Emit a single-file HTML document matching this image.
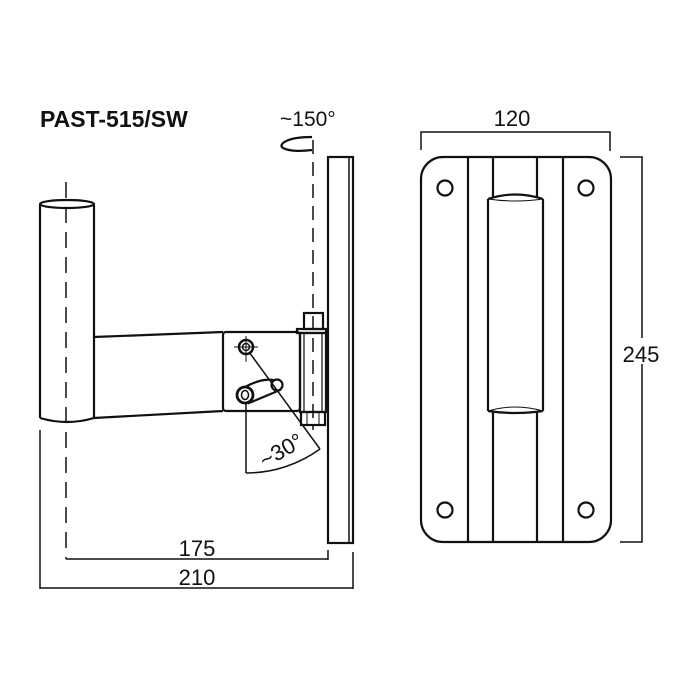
<!DOCTYPE html>
<html><head><style>body{margin:0;background:#fff}svg{display:block}</style></head>
<body>
<svg width="700" height="700" viewBox="0 0 700 700" xmlns="http://www.w3.org/2000/svg" font-family="Liberation Sans, sans-serif">
<text x="40" y="127" font-size="23" font-weight="bold" fill="#111">PAST-515/SW</text>
<text x="280" y="126" font-size="21" fill="#111">~150°</text>
<g fill="none" stroke="#111" stroke-width="2.2">
<path d="M312 137 C285 137 278 145 283 148 C290 152 305 151 312 150"/>
<line x1="313" y1="140" x2="313" y2="430" stroke-dasharray="14,8" stroke-width="1.5"/>
<rect x="328" y="157" width="25" height="386"/>
<line x1="349" y1="157" x2="349" y2="543" stroke-width="1.5"/>
<line x1="40" y1="205" x2="40" y2="418"/>
<line x1="94" y1="205" x2="94" y2="418"/>
<ellipse cx="67" cy="204" rx="27" ry="4"/>
<path d="M40 418 Q67 426 94 418"/>
<line x1="66" y1="182" x2="66" y2="559" stroke-dasharray="16,9" stroke-width="1.5"/>
<line x1="94" y1="337" x2="223" y2="332"/>
<line x1="94" y1="418" x2="223" y2="411"/>
<rect x="223" y="332" width="77" height="79" rx="3"/>
<rect x="304" y="313" width="19" height="16"/>
<rect x="297" y="329" width="29" height="4"/>
<rect x="300" y="333" width="26" height="79"/>
<line x1="304" y1="333" x2="304" y2="412" stroke-width="1.2"/>
<line x1="322" y1="333" x2="322" y2="412" stroke-width="1.2"/>
<rect x="301" y="412" width="24" height="13"/>
<line x1="307" y1="412" x2="307" y2="425" stroke-width="1"/>
<line x1="319" y1="412" x2="319" y2="425" stroke-width="1"/>
<circle cx="246" cy="347" r="7" stroke-width="2.5"/>
<circle cx="246" cy="347" r="3.5" stroke-width="1.5"/>
<line x1="234" y1="347" x2="258" y2="347" stroke-width="1"/>
<path d="M245 387 Q262 378 273 380 L280 390 Q266 396 249 403 Z" fill="#fff" stroke-width="2.2"/>
<circle cx="277" cy="385" r="5.5" fill="#fff" stroke-width="2.2"/>
<circle cx="245" cy="395" r="8" fill="#fff" stroke-width="2.8"/>
<ellipse cx="245" cy="395" rx="3.5" ry="4.5" stroke-width="1.5"/>
<line x1="246" y1="336" x2="246" y2="362" stroke-width="1"/>
<line x1="246" y1="404" x2="246" y2="473" stroke-width="1.5"/>
<line x1="249" y1="352" x2="320" y2="449" stroke-width="1.5"/>
<path d="M246 473 A126 126 0 0 0 320 449" stroke-width="1.5"/>
<line x1="66" y1="559" x2="328" y2="559" stroke-width="1.5"/>
<line x1="328" y1="550" x2="328" y2="560" stroke-width="1.5"/>
<line x1="40" y1="430" x2="40" y2="589" stroke-width="1.5"/>
<line x1="353" y1="552" x2="353" y2="589" stroke-width="1.5"/>
<line x1="40" y1="588" x2="353" y2="588" stroke-width="1.5"/>
<rect x="421" y="157" width="190" height="385" rx="22"/>
<line x1="468" y1="157" x2="468" y2="542"/>
<line x1="563" y1="157" x2="563" y2="542"/>
<line x1="493" y1="157" x2="493" y2="197"/>
<line x1="537" y1="157" x2="537" y2="197"/>
<line x1="493" y1="412" x2="493" y2="542"/>
<line x1="537" y1="412" x2="537" y2="542"/>
<line x1="488" y1="199" x2="488" y2="411"/>
<line x1="543" y1="199" x2="543" y2="411"/>
<path d="M488 199 Q515 190 543 199"/>
<path d="M488 199 Q515 203 543 199" stroke-width="1"/>
<path d="M488 411 Q515 403 543 411" stroke-width="1"/>
<path d="M488 411 Q515 415 543 411"/>
<circle cx="445" cy="188" r="7.5"/>
<circle cx="586" cy="188" r="7.5"/>
<circle cx="445" cy="510" r="7.5"/>
<circle cx="586" cy="510" r="7.5"/>
<polyline points="421,150 421,132 610,132 610,151" stroke-width="1.5"/>
<polyline points="620,157 642,157 642,542 620,542" stroke-width="1.5"/>
</g>
<text x="281" y="458" font-size="22" fill="#111" text-anchor="middle" transform="rotate(-30 281 450)">~30°</text>
<rect x="624" y="338" width="36" height="26" fill="#fff"/>
<text x="641" y="362" font-size="22" fill="#111" text-anchor="middle">245</text>
<text x="512" y="126" font-size="22" fill="#111" text-anchor="middle">120</text>
<text x="197" y="556" font-size="22" fill="#111" text-anchor="middle">175</text>
<text x="197" y="585" font-size="22" fill="#111" text-anchor="middle">210</text>
</svg>
</body></html>
